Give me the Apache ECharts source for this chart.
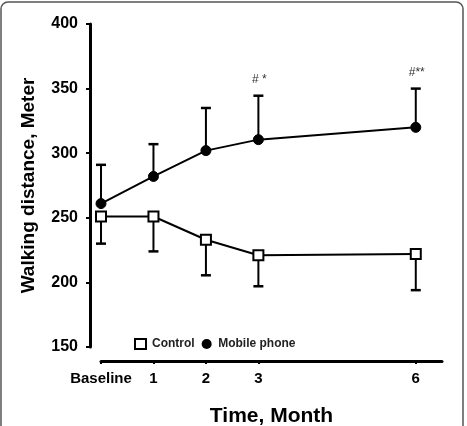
<!DOCTYPE html>
<html><head><meta charset="utf-8">
<script src="https://cdn.jsdelivr.net/npm/echarts@6/dist/echarts.min.js"></script>
<style>html,body{margin:0;padding:0;background:#fff}#c{width:467px;height:426px}</style>
</head><body><div id="c"></div>
<script>
const months = [0, 1, 2, 3, 6];
const tickLabels = ['Baseline', '1', '2', '3', '6'];
const controlMean = [251, 251, 233, 221, 222];
const controlLow = [230, 224, 205.5, 197, 194];
const mobileMean = [261, 282, 302, 310.5, 320];
const mobileHigh = [291, 307, 335, 344.5, 350];
const annotations = ['', '', '', '# *', '#**'];

const chart = echarts.init(document.getElementById('c'));
const font = '"Liberation Sans", Arial, sans-serif';

function errData(mean, bound) {
  return months.map((m, i) => [m, mean[i], bound[i], annotations[i]]);
}
function errRender(withText) {
  return function (params, api) {
    const p0 = api.coord([api.value(0), api.value(1)]);
    const p1 = api.coord([api.value(0), api.value(2)]);
    const children = [
      {type: 'line', shape: {x1: p0[0], y1: p0[1], x2: p1[0], y2: p1[1]}, style: {stroke: '#000', lineWidth: 2}},
      {type: 'line', shape: {x1: p1[0] - 5, y1: p1[1], x2: p1[0] + 5, y2: p1[1]}, style: {stroke: '#000', lineWidth: 2.5}}
    ];
    const t = api.value(3);
    if (withText && t) {
      children.push({type: 'text', x: p1[0] + 1, y: p1[1] - 16, style: {text: t, font: '12px ' + font, fill: '#333', align: 'center', verticalAlign: 'middle'}});
    }
    return {type: 'group', children};
  };
}

chart.setOption({
  animation: false,
  grid: {left: 101, right: 25, top: 24, bottom: 79, containLabel: false, outerBoundsMode: 'none'},
  graphic: [{type: 'rect', shape: {x: 1, y: 2, width: 462, height: 480, r: 7}, style: {fill: 'none', stroke: '#555', lineWidth: 1.5}, silent: true}],
  legend: {
    left: 129, top: 333, itemGap: 7, itemWidth: 11, itemHeight: 10,
    textStyle: {fontFamily: font, fontSize: 12, fontWeight: 'bold', color: '#222', padding: [0, 0, 0, 1]},
    data: [
      {name: 'Control', icon: 'rect', itemStyle: {color: '#fff', borderColor: '#000', borderWidth: 2}},
      {name: 'Mobile phone', icon: 'circle', itemStyle: {color: '#000'}}
    ]
  },
  xAxis: {
    type: 'value', min: 0, max: 6.5, offset: 14,
    name: 'Time, Month', nameLocation: 'middle', nameGap: 45,
    nameTextStyle: {fontFamily: font, fontSize: 21, fontWeight: 'bold', color: '#000'},
    splitLine: {show: false},
    axisLine: {show: true, onZero: false, lineStyle: {color: '#000', width: 3}},
    axisTick: {length: 3, lineStyle: {width: 2, color: '#000'}, customValues: months},
    axisLabel: {customValues: months, fontFamily: font, fontSize: 15, fontWeight: 'bold', color: '#000', margin: 10,
      formatter: v => tickLabels[months.indexOf(v)]}
  },
  yAxis: {
    type: 'value', min: 150, max: 400, interval: 50, offset: 11,
    name: 'Walking distance, Meter', nameLocation: 'middle', nameGap: 52,
    nameTextStyle: {fontFamily: font, fontSize: 19, fontWeight: 'bold', color: '#000'},
    splitLine: {show: false},
    axisLine: {show: true, onZero: false, lineStyle: {color: '#000', width: 3}},
    axisTick: {show: true, length: 4, lineStyle: {width: 2, color: '#000'}},
    axisLabel: {fontFamily: font, fontSize: 16, fontWeight: 'bold', color: '#000', margin: 12}
  },
  series: [
    {type: 'custom', renderItem: errRender(false), data: errData(controlMean, controlLow), silent: true, z: 1},
    {type: 'custom', renderItem: errRender(true), data: errData(mobileMean, mobileHigh), silent: true, z: 1},
    {name: 'Control', type: 'line', data: months.map((m, i) => [m, controlMean[i]]), symbol: 'rect', symbolSize: 10,
      itemStyle: {color: '#fff', borderColor: '#000', borderWidth: 2}, lineStyle: {color: '#000', width: 2}, z: 3},
    {name: 'Mobile phone', type: 'line', data: months.map((m, i) => [m, mobileMean[i]]), symbol: 'circle', symbolSize: 10,
      itemStyle: {color: '#000', borderColor: '#000'}, lineStyle: {color: '#000', width: 2}, z: 3}
  ]
});
</script></body></html>
